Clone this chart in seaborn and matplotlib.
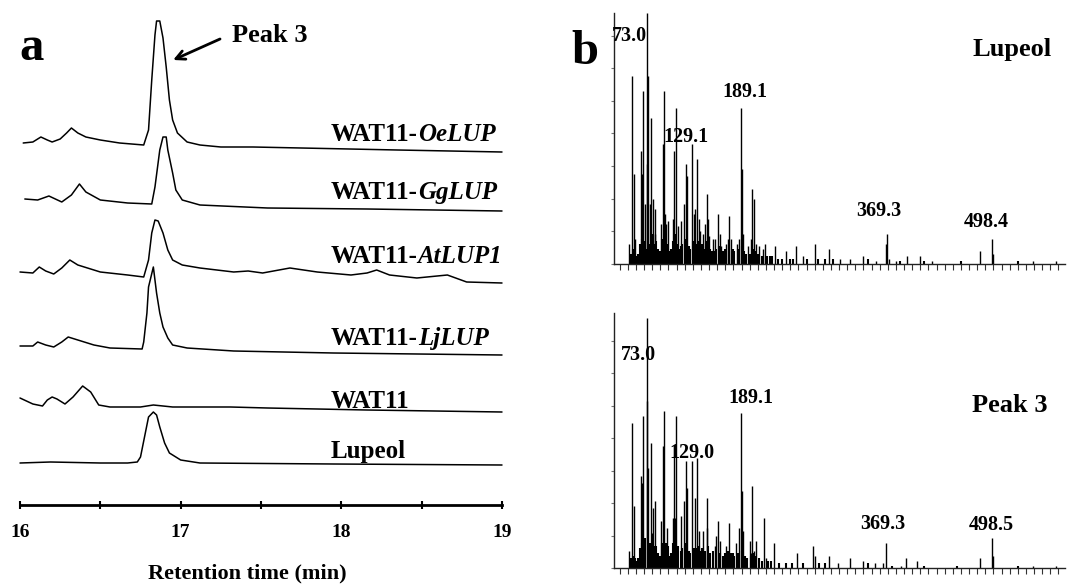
import matplotlib
matplotlib.use('Agg')
import matplotlib.pyplot as plt
from matplotlib.ticker import MultipleLocator, NullFormatter
import pandas as pd
import seaborn as sns

# ---- panel a: GC traces (time in min, signal above each trace's own baseline) ----
oe_time = [16.02, 16.08, 16.13, 16.17, 16.20, 16.25, 16.29, 16.32, 16.36, 16.41, 16.50, 16.62, 16.77, 16.80,
           16.82, 16.84, 16.85, 16.87, 16.89, 16.91, 16.93, 16.95, 16.98, 17.04, 17.12, 17.25, 17.45, 17.75,
           18.35, 19.00]
oe_signal = [9, 10, 15, 12, 10, 13, 19, 24, 19, 15, 12, 9, 7, 22, 72, 117, 131, 131, 114, 85, 52, 32, 19, 10,
             7, 5, 5, 4, 2, 0]

gg_time = [16.03, 16.11, 16.18, 16.26, 16.32, 16.37, 16.41, 16.50, 16.67, 16.82, 16.84, 16.87, 16.89, 16.91,
           16.92, 16.95, 16.97, 17.01, 17.12, 17.54, 18.16, 19.00]
gg_signal = [12, 11, 15, 9, 16, 27, 19, 11, 8, 7, 24, 61, 74, 74, 61, 38, 21, 11, 6, 3, 2, 0]

at_time = [16.00, 16.08, 16.12, 16.16, 16.21, 16.26, 16.31, 16.36, 16.50, 16.67, 16.77, 16.80, 16.82, 16.84,
           16.86, 16.89, 16.92, 16.95, 17.01, 17.12, 17.33, 17.42, 17.51, 17.68, 17.85, 18.06, 18.16, 18.22,
           18.30, 18.47, 18.66, 18.78, 19.00]
at_signal = [11, 10, 16, 12, 9, 15, 23, 18, 11, 8, 6, 23, 50, 63, 62, 50, 33, 23, 18, 15, 11, 12, 10, 15, 11,
             8, 10, 13, 8, 5, 8, 1, 0]

lj_time = [16.00, 16.08, 16.11, 16.16, 16.21, 16.26, 16.30, 16.36, 16.46, 16.56, 16.76, 16.77, 16.79, 16.80,
           16.83, 16.85, 16.87, 16.89, 16.92, 16.95, 17.04, 17.33, 17.95, 19.00]
lj_signal = [9, 9, 13, 10, 8, 13, 18, 15, 10, 7, 6, 13, 42, 68, 88, 62, 42, 28, 17, 10, 7, 4, 2, 0]

wat_time = [16.00, 16.08, 16.14, 16.17, 16.20, 16.23, 16.28, 16.33, 16.39, 16.44, 16.49, 16.56, 16.75, 16.83,
            16.95, 17.16, 17.31, 17.54, 18.16, 19.00]
wat_signal = [14, 8, 6, 12, 15, 13, 8, 15, 26, 20, 7, 5, 5, 7, 5, 5, 5, 4, 2, 0]

lup_time = [16.00, 16.19, 16.50, 16.67, 16.73, 16.75, 16.78, 16.80, 16.83, 16.85, 16.87, 16.90, 16.93, 17.00,
            17.12, 17.95, 19.00]
lup_signal = [2, 3, 2, 2, 3, 8, 32, 48, 53, 50, 38, 22, 12, 5, 2, 1, 0]

trace_prefix = ['WAT11-', 'WAT11-', 'WAT11-', 'WAT11-', 'WAT11', 'Lupeol']
trace_gene = ['OeLUP', 'GgLUP', 'AtLUP1', 'LjLUP', '', '']

# ---- panel b: EI mass spectra (m/z, relative intensity %) ----
lupeol_mz = [52, 55, 57, 59, 66, 67, 69, 71, 73, 74, 75, 77, 79, 81, 83, 84, 91, 93, 95, 96, 97, 99, 105, 107,
             109, 112, 116, 119, 121, 123, 129, 131, 133, 135, 137, 139, 143, 145, 147, 149, 150, 155, 157, 161,
             163, 165, 171, 173, 175, 177, 184, 187, 189, 191, 192, 198, 201, 203, 205, 208, 212, 216, 219, 231,
             245, 257, 265, 280, 298, 311, 324, 340, 355, 368, 369, 371, 380, 394, 409, 424, 483, 498, 499, 549, 577]
lupeol_int = [8, 75, 36, 10, 45, 36, 69, 24, 100, 40, 75, 24, 58, 26, 12, 22, 16, 48, 69, 20, 16, 17, 18, 45,
              62, 15, 17, 24, 40, 35, 48, 20, 22, 42, 18, 13, 12, 16, 28, 18, 11, 10, 10, 20,
              12, 7, 8, 10, 19, 10, 8, 10, 62, 38, 12, 7, 10, 30, 26, 8, 7, 6, 8, 7,
              5, 7, 3, 8, 6, 2, 2, 3, 1, 8, 12, 2, 1, 3, 3, 1, 5, 10, 4, 1, 1]

peak3_mz = [52, 55, 57, 66, 67, 69, 73, 74, 75, 79, 80, 81, 84, 91, 93, 95, 98, 106, 107, 108, 109, 116, 119,
            121, 123, 129, 133, 135, 138, 143, 147, 148, 157, 159, 161, 164, 171, 175, 183, 187, 189, 191, 192,
            200, 202, 203, 205, 208, 217, 220, 230, 258, 278, 280, 298, 309, 324, 339, 354, 364, 368, 386, 392,
            406, 483, 498, 499, 549, 577]
peak3_int = [7, 58, 25, 37, 34, 61, 100, 67, 40, 50, 14, 24, 27, 19, 49, 63, 16, 20, 49, 20, 61, 21, 27,
             43, 32, 43, 28, 44, 15, 15, 28, 16, 9, 13, 19, 11, 9, 18, 10, 16, 62, 31, 15,
             11, 6, 33, 7, 11, 20, 4, 10, 6, 9, 5, 5, 2, 4, 3, 2, 2, 10, 1, 4,
             3, 4, 12, 5, 1, 1]

# low-level ion clusters that fill the base of both spectra
lupeol_low_mz = [54, 56, 58, 61, 63, 65, 68, 70, 72, 76, 78, 80, 82, 85, 87, 89, 92, 94, 98, 101, 103, 106, 108,
                 110, 113, 115, 117, 120, 122, 125, 127, 130, 132, 134, 136, 141, 144, 146, 148, 151, 153, 156,
                 159, 162, 167, 169, 174, 179, 181, 185, 190, 193, 195, 200, 204, 207, 210, 215, 221, 225, 228,
                 235, 240, 250, 253, 270, 284, 293, 302, 345, 385, 415, 460, 530]
lupeol_low_int = [4, 6, 5, 3, 4, 8, 10, 9, 6, 8, 7, 12, 8, 9, 6, 5, 10, 9, 8, 5, 6, 9, 12,
                  8, 6, 7, 8, 9, 10, 7, 6, 9, 7, 8, 9, 8, 6, 7, 9, 6, 5, 5,
                  6, 7, 5, 6, 5, 6, 5, 6, 7, 5, 4, 4, 6, 5, 4, 3, 3, 3, 3,
                  2, 2, 2, 2, 2, 2, 2, 2, 2, 1, 1, 1, 1]
peak3_low_mz = [54, 56, 59, 61, 63, 65, 68, 70, 71, 77, 78, 82, 83, 85, 87, 89, 92, 94, 96, 97, 99, 101, 103,
                105, 110, 112, 115, 117, 120, 122, 125, 127, 131, 134, 137, 139, 141, 145, 149, 151, 155, 163,
                167, 169, 173, 177, 179, 181, 185, 190, 194, 197, 201, 204, 207, 211, 215, 222, 226, 236, 245,
                252, 265, 285, 293, 345, 375, 415, 455, 530]
peak3_low_int = [4, 5, 4, 3, 4, 8, 10, 9, 12, 10, 7, 9, 8, 9, 6, 5, 10, 9, 8, 10, 9, 5, 6,
                 10, 8, 9, 7, 8, 9, 10, 7, 6, 8, 8, 9, 7, 8, 7, 9, 6, 7, 6,
                 5, 6, 7, 6, 6, 5, 6, 7, 5, 4, 5, 6, 5, 4, 3, 3, 3, 2, 2,
                 2, 2, 2, 2, 2, 1, 1, 1, 1]

sns.set_style('white')
plt.rcParams['font.family'] = ['Liberation Serif', 'DejaVu Serif']
plt.rcParams['font.weight'] = 'bold'
plt.rcParams['text.color'] = 'black'
plt.rcParams['xtick.color'] = 'black'
plt.rcParams['ytick.color'] = 'black'
plt.rcParams['axes.labelcolor'] = 'black'

fig = plt.figure(figsize=(10.67, 5.85), dpi=100)
W, H = 1067, 585

# ---------------- panel a ----------------
ax_a = fig.add_axes([20 / W, 80 / H, 482 / W, 490 / H])
traces = [(oe_time, oe_signal), (gg_time, gg_signal), (at_time, at_signal),
          (lj_time, lj_signal), (wat_time, wat_signal), (lup_time, lup_signal)]
offsets = [353, 294, 222, 150, 93, 40]
label_y = [364, 306, 242, 160, 97, 47]

for (t, s), off in zip(traces, offsets):
    df = pd.DataFrame({'time': t, 'signal': [v + off for v in s]})
    sns.lineplot(data=df, x='time', y='signal', ax=ax_a, color='black', lw=1.1,
                 estimator=None, sort=False, clip_on=False)

for prefix, gene, y in zip(trace_prefix, trace_gene, label_y):
    txt = ax_a.text(17.935, y, prefix, ha='left', va='baseline', fontsize=18, fontweight='bold')
    if gene:
        ax_a.annotate(gene, xy=(1, 0), xycoords=txt, ha='left', va='bottom',
                      fontsize=18, fontweight='bold', style='italic')

ax_a.annotate('', xy=(16.953, 445), xytext=(17.245, 466),
              arrowprops=dict(arrowstyle='->', lw=2, color='black', shrinkA=0, shrinkB=0,
                              mutation_scale=16))
ax_a.text(17.32, 463, 'Peak 3', ha='left', va='baseline', fontsize=19, fontweight='bold')

ax_a.set_xlim(16, 19)
ax_a.set_ylim(0, 490)
ax_a.set_xticks([16, 17, 18, 19])
ax_a.xaxis.set_minor_locator(MultipleLocator(0.5))
ax_a.set_yticks([])
ax_a.set_xlabel('')
ax_a.set_ylabel('')
for side in ['left', 'right', 'top']:
    ax_a.spines[side].set_visible(False)
ax_a.spines['bottom'].set_linewidth(2)
ax_a.spines['bottom'].set_color('black')
ax_a.tick_params(axis='x', which='both', direction='inout', length=6, width=1.5, color='black',
                 labelsize=14, pad=11, bottom=True, labelcolor='black')
for lab in ax_a.get_xticklabels():
    lab.set_fontweight('bold')

fig.text(247 / W, 1 - 573 / H, 'Retention time (min)', ha='center', va='center',
         fontsize=16, fontweight='bold')
fig.text(32 / W, 1 - 48 / H, 'a', ha='center', va='center', fontsize=35, fontweight='bold')
fig.text(585 / W, 1 - 52 / H, 'b', ha='center', va='center', fontsize=35, fontweight='bold')


# ---------------- panel b ----------------
def spectrum_axes(rect, mz, inten, low_mz, low_int, ytop):
    ax = fig.add_axes(rect)
    ax.vlines(low_mz, 0, low_int, color='black', lw=1.5)
    ax.vlines(mz, 0, inten, color='black', lw=1.0)
    ax.set_xlim(33, 588)
    ax.set_ylim(0, ytop)
    ax.xaxis.set_major_locator(MultipleLocator(50))
    ax.xaxis.set_minor_locator(MultipleLocator(10))
    ax.yaxis.set_major_locator(MultipleLocator(13))
    ax.xaxis.set_major_formatter(NullFormatter())
    ax.yaxis.set_major_formatter(NullFormatter())
    ax.tick_params(axis='x', which='both', direction='out', length=4, width=0.8, color='#333333',
                   bottom=True)
    ax.tick_params(axis='y', which='major', direction='out', length=2, width=0.8, color='#777777',
                   left=True)
    for side in ['right', 'top']:
        ax.spines[side].set_visible(False)
    for side in ['left', 'bottom']:
        ax.spines[side].set_linewidth(1)
        ax.spines[side].set_color('#222222')
    return ax


ax_top = spectrum_axes([614 / W, 321 / H, 451 / W, 251 / H],
                       lupeol_mz, lupeol_int, lupeol_low_mz, lupeol_low_int, 100)
ax_bot = spectrum_axes([614 / W, 17 / H, 451 / W, 255 / H],
                       peak3_mz, peak3_int, peak3_low_mz, peak3_low_int, 102)

lab_kw = dict(ha='center', va='baseline', fontsize=14.5, fontweight='bold', color='black')
ax_top.text(52, 89, '73.0', **lab_kw)
ax_top.text(121, 48.6, '129.1', **lab_kw)
ax_top.text(194.5, 66.5, '189.1', **lab_kw)
ax_top.text(358.7, 19, '369.3', **lab_kw)
ax_top.text(490.5, 14.7, '498.4', **lab_kw)
ax_top.text(523, 83, 'Lupeol', ha='center', va='baseline', fontsize=19, fontweight='bold')

ax_bot.text(63.5, 83.2, '73.0', **lab_kw)
ax_bot.text(128.4, 44, '129.0', **lab_kw)
ax_bot.text(202, 66, '189.1', **lab_kw)
ax_bot.text(364, 15.6, '369.3', **lab_kw)
ax_bot.text(497.4, 15.2, '498.5', **lab_kw)
ax_bot.text(520, 62.4, 'Peak 3', ha='center', va='baseline', fontsize=19, fontweight='bold')

fig.savefig('out.png', dpi=100, facecolor='white')
